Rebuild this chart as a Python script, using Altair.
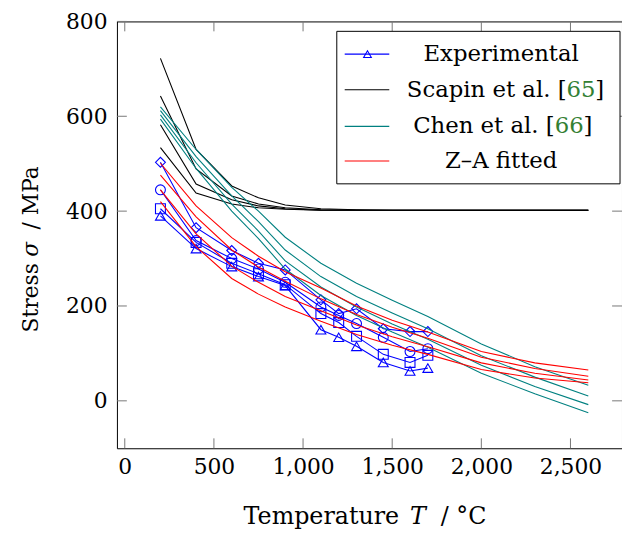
import altair as alt
import pandas as pd

FONT = "DejaVu Serif"
W, H = 510, 431

# ---------------- data ----------------
temps_exp = [200, 400, 600, 750, 900, 1100, 1200, 1300, 1450, 1600, 1700]
exp_triangle = [390, 321, 283, 262, 243, 150, 134, 115, 81, 63, 69]
exp_square = [405, 334, 290, 268, 245, 184, 165, 136, 98, 81, 96]
exp_circle = [445, 338, 300, 278, 250, 198, 180, 163, 134, 104, 110]
exp_diamond = [503, 365, 317, 290, 276, 213, 184, 194, 152, 146, 146]

temps_model = [200, 400, 600, 750, 900, 1100, 1300, 1500, 1700, 2000, 2300, 2600]
scapin_1 = [722, 530, 453, 428, 413, 405, 403, 402, 402, 402, 402, 402]
scapin_2 = [643, 489, 432, 415, 407, 403, 402, 402, 402, 402, 402, 402]
scapin_3 = [582, 457, 424, 411, 405, 402, 402, 402, 402, 402, 402, 402]
scapin_4 = [534, 438, 415, 407, 404, 402, 402, 402, 402, 402, 402, 402]

chen_1 = [620, 530, 450, 400, 345, 290, 248, 212, 178, 120, 72, 33]
chen_2 = [612, 515, 432, 378, 318, 262, 220, 185, 152, 95, 50, 10]
chen_3 = [603, 502, 415, 358, 295, 240, 198, 162, 130, 75, 30, -8]
chen_4 = [594, 490, 400, 342, 278, 222, 180, 145, 113, 58, 15, -25]

za_1 = [501, 411, 344, 305, 272, 238, 200, 170, 145, 104, 80, 65]
za_2 = [476, 388, 318, 282, 252, 215, 182, 155, 132, 92, 68, 52]
za_3 = [445, 352, 284, 250, 220, 190, 160, 135, 114, 80, 58, 44]
za_4 = [420, 325, 258, 225, 198, 168, 140, 117, 98, 66, 48, 38]

x_ticks = [0, 500, 1000, 1500, 2000, 2500]
y_ticks = [0, 200, 400, 600, 800]

legend_labels = ["Experimental", "Scapin et al. [", "Chen et al. [", "Z\u2013A fitted"]
legend_refs = ["65", "66"]

# ---------------- frames ----------------
exp_df = pd.concat([
    pd.DataFrame({"T": temps_exp, "sigma": v, "series": n})
    for n, v in [("triangle-up", exp_triangle), ("square", exp_square),
                 ("circle", exp_circle), ("diamond", exp_diamond)]
])

def model_df(prefix, arrays):
    return pd.concat([
        pd.DataFrame({"T": temps_model, "sigma": v, "series": f"{prefix}{i}"})
        for i, v in enumerate(arrays)
    ])

scapin_df = model_df("s", [scapin_1, scapin_2, scapin_3, scapin_4])
chen_df = model_df("c", [chen_1, chen_2, chen_3, chen_4])
za_df = model_df("z", [za_1, za_2, za_3, za_4])

xscale = alt.Scale(domain=[-44, 2789], nice=False, zero=False)
yscale = alt.Scale(domain=[-100, 800], nice=False, zero=False)
xaxis = alt.Axis(values=x_ticks, format=",d", ticks=False, domain=False, grid=False,
                 labelPadding=8, title=None, labelFont=FONT, labelFontSize=22,
                 labelColor="black")
yaxis = alt.Axis(values=y_ticks, ticks=False, domain=False, grid=False,
                 labelPadding=10, title=None, labelFont=FONT, labelFontSize=22,
                 labelColor="black")

X = alt.X("T:Q", scale=xscale, axis=xaxis)
Y = alt.Y("sigma:Q", scale=yscale, axis=yaxis)

exp_lines = alt.Chart(exp_df).mark_line(color="#0000ff", strokeWidth=1.1).encode(
    x=X, y=Y, detail="series:N")
exp_points = alt.Chart(exp_df).mark_point(filled=False, color="#0000ff", size=100,
                                          strokeWidth=1.1, opacity=1).encode(
    x=X, y=Y,
    shape=alt.Shape("series:N", scale=alt.Scale(
        domain=["triangle-up", "square", "circle", "diamond"],
        range=["triangle-up", "square", "circle", "diamond"]), legend=None))

def model_layer(df, color):
    return alt.Chart(df).mark_line(color=color, strokeWidth=1.1).encode(
        x=X, y=Y, detail="series:N")

scapin_l = model_layer(scapin_df, "#000000")
chen_l = model_layer(chen_df, "#008080")
za_l = model_layer(za_df, "#ff0000")

# inner ticks (pgfplots style)
xt = pd.DataFrame({"T": x_ticks})
yt = pd.DataFrame({"sigma": y_ticks})
tick_color = "#777777"
xt_bottom = alt.Chart(xt).mark_rule(color=tick_color, strokeWidth=1).encode(
    x=X, y=alt.value(H - 10), y2=alt.value(H))
xt_top = alt.Chart(xt).mark_rule(color=tick_color, strokeWidth=1).encode(
    x=X, y=alt.value(0), y2=alt.value(10))
yt_left = alt.Chart(yt).mark_rule(color=tick_color, strokeWidth=1).encode(
    y=Y, x=alt.value(0), x2=alt.value(10))
yt_right = alt.Chart(yt).mark_rule(color=tick_color, strokeWidth=1).encode(
    y=Y, x=alt.value(W - 10), x2=alt.value(W))

# text helper
one = pd.DataFrame({"a": [0]})
def txt(s, x, y, size=24, align="left", baseline="alphabetic", angle=0,
        style="normal", color="black"):
    kw = dict(font=FONT, fontSize=size, align=align, baseline=baseline,
              fontStyle=style, color=color)
    if angle:
        kw["angle"] = angle
    return alt.Chart(pd.DataFrame({"t": [s]})).mark_text(**kw).encode(
        text="t:N", x=alt.value(x), y=alt.value(y))

# axis titles
xtitle = [
    txt("Temperature", 285, 507, align="right"),
    txt("T", 304, 507, align="center", style="italic"),
    txt("/ \u00b0C", 327, 507, align="left"),
]
ytitle = [
    txt("Stress", -80, 314, size=22, align="left", angle=270),
    txt("\u03c3", -80, 230, size=22, align="center", angle=270, style="italic"),
    txt("/ MPa", -80, 210, size=22, align="left", angle=270),
]

# legend
box = alt.Chart(one).mark_rect(fill="white", stroke="black", strokeWidth=1).encode(
    x=alt.value(222), x2=alt.value(508), y=alt.value(10), y2=alt.value(164))
rows = [33, 69, 106, 141]
leg_colors = ["#0000ff", "#000000", "#008080", "#ff0000"]
leg_lines = [alt.Chart(one).mark_rule(color=c, strokeWidth=1.1).encode(
    x=alt.value(230), x2=alt.value(275), y=alt.value(r)) for c, r in zip(leg_colors, rows)]
leg_marker = alt.Chart(one).mark_point(shape="triangle-up", filled=False, color="#0000ff",
                                       size=60, strokeWidth=1.1, opacity=1).encode(
    x=alt.value(253), y=alt.value(rows[0]))
green = "#338033"
LS = 23
leg_texts = [
    txt(legend_labels[0], 388, rows[0], size=LS, align="center", baseline="middle"),
    txt(legend_labels[1], 454, rows[1], size=LS, align="right", baseline="middle"),
    txt(legend_refs[0], 454, rows[1], size=LS, align="left", baseline="middle", color=green),
    txt("]", 483, rows[1], size=LS, align="left", baseline="middle"),
    txt(legend_labels[2], 442, rows[2], size=LS, align="right", baseline="middle"),
    txt(legend_refs[1], 442, rows[2], size=LS, align="left", baseline="middle", color=green),
    txt("]", 471, rows[2], size=LS, align="left", baseline="middle"),
    txt(legend_labels[3], 388, rows[3], size=LS, align="center", baseline="middle"),
]

chart = alt.layer(
    exp_lines, exp_points, scapin_l, chen_l, za_l,
    xt_bottom, xt_top, yt_left, yt_right,
    *xtitle, *ytitle,
    box, *leg_lines, leg_marker, *leg_texts,
).properties(
    width=W, height=H, autosize="none",
    padding={"left": 110, "top": 11, "right": 0, "bottom": 82},
    background="white",
).configure_view(stroke="black", strokeWidth=1)

chart.save("out.html", embed_options={"renderer": "svg", "actions": False})
